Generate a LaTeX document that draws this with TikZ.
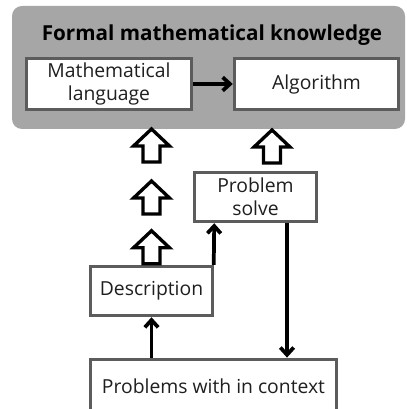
\documentclass[tikz,border=0pt]{standalone}
\usepackage{fontspec}
\setmainfont{Open Sans}
\usetikzlibrary{arrows.meta,calc,positioning}
\definecolor{panelgray}{rgb}{0.65, 0.65, 0.65}
\definecolor{boxgray}{rgb}{0.36, 0.36, 0.36}
\definecolor{textgray}{rgb}{0.12, 0.12, 0.12}

\begin{document}
\begin{tikzpicture}[x=0.75pt,y=0.75pt,yscale=-1,xscale=1,
	box/.style={draw=boxgray, line width=2.6pt, fill=white, text=textgray, align=center, inner sep=0pt, font=\fontsize{14.5}{17}\selectfont},
	flow/.style={draw=black, line width=2.8pt, -{Straight Barb[length=5.5pt,width=10pt]}},
	hollowup/.pic={\draw[black, line width=2.5pt, fill=white, miter limit=4] (-8.5,1) -- (-8.5,17) -- (-18,17) -- (0,34) -- (18,17) -- (8.5,17) -- (8.5,1) -- cycle;}]
	\useasboundingbox (0,0) rectangle (406,409);
	
	%Shape: Rounded Rect
	\fill [panelgray, rounded corners=7.5pt] (12,6) rectangle (405,129);
	
	% Text Node
	\node (title) at (212,35) [text=black, font=\fontsize{15.5}{17}\selectfont\bfseries] {Formal mathematical knowledge};
	% Text Node
	\node (mathlang) at (109,84) [box, minimum width=123.75pt, minimum height=38.25pt] {Mathematical\\language};
	% Text Node
	\node (algo) at (316.5,84) [box, minimum width=123pt, minimum height=38.25pt] {Algorithm};
	% Text Node
	\node (solve) at (255.5,197) [box, minimum width=91.5pt, minimum height=36.75pt] {Problem\\solve};
	% Text Node
	\node (descr) at (151.5,291) [box, minimum width=91.5pt, minimum height=36.75pt] {Description};
	% Text Node
	\node (context) at (213.5,386) [box, minimum width=184.5pt, minimum height=40pt] {Problems with in context};
	
	%Straight Lines
	\draw [flow] (mathlang) -- (algo);
	\draw [flow] (descr.north east) ++(-0.5,0) -- (descr.north east |- solve.south);
	\draw [flow] (context.north -| descr.south) -- (descr.south);
	\coordinate (down) at ($(solve.south)+(31.5,0)$);
	\draw [flow] (down) -- (down |- context.north);
	
	%Shape: Block Arrows
	\pic at (151.5,163) {hollowup};
	\pic at (151.5,215) {hollowup};
	\pic at (descr.north) {hollowup};
	\pic at (272,164) {hollowup};
\end{tikzpicture}
\end{document}
